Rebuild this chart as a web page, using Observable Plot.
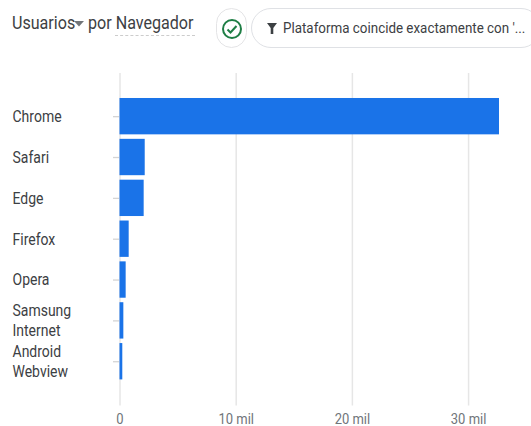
<!DOCTYPE html>
<html><head><meta charset="utf-8">
<script src="https://cdn.jsdelivr.net/npm/d3@7"></script>
<script src="https://cdn.jsdelivr.net/npm/@observablehq/plot@0.6"></script>
<style>
html,body{margin:0;padding:0;background:#fff;overflow:hidden}
#head{position:relative;width:531px;height:70px;overflow:hidden;font-family:Roboto,sans-serif;color:#3c4043}
#head span,#head div{position:absolute}
.t{font-size:16.1px;top:13px;white-space:nowrap;transform:scaleY(1.12);transform-origin:center}
#dash{left:115px;top:35px;width:80px;border-top:1px dashed #ccc}
#check{left:216px;top:8px;width:31px;height:40px;border:1px solid #e4e4e6;border-radius:16px;box-sizing:border-box}
#pill{left:251px;top:8px;width:290px;height:40px;border:1px solid #dfe1e5;border-radius:20px;box-sizing:border-box}
#pilltext{left:283px;top:20px;font-size:13.4px;white-space:nowrap;transform:scaleY(1.15);transform-origin:center}
#head svg{position:absolute}
#chart svg{display:block}
</style></head><body>
<div id="head">
<span class="t" style="left:12px">Usuarios</span>
<svg style="left:74px;top:21px" width="11" height="7"><path d="M0 0H10L5 5.5Z" fill="#70757a"/></svg>
<span class="t" style="left:88px">por Navegador</span>
<div id="dash"></div>
<div id="check"></div>
<svg style="left:220px;top:17px" width="24" height="24"><circle cx="12" cy="12" r="9" fill="none" stroke="#1e7e45" stroke-width="2"/><path d="M7.5 12.5l3 3 6-6.5" fill="none" stroke="#1e7e45" stroke-width="2"/></svg>
<div id="pill"></div>
<svg style="left:266px;top:22px" width="12" height="13"><path d="M1 1H11L7.3 6V12H4.7V6Z" fill="#3c4043"/></svg>
<span id="pilltext">Plataforma coincide exactamente con '...</span>
</div>
<div id="chart"></div>
<script>
const browsers = ["Chrome","Safari","Edge","Firefox","Opera","Samsung\nInternet","Android\nWebview"];
const users = [32660,2170,2080,790,530,330,240];
const xTicks = [0,10000,20000,30000];
const rows = browsers.map((b,i)=>({b,v:users[i]}));
const plot = Plot.plot({
  width:531, height:356, marginLeft:119, marginRight:0, marginTop:3, marginBottom:20.4,
  style:{fontFamily:"Roboto,sans-serif",background:"#fff"},
  x:{domain:[0,36000],range:[119.5,537.8],label:null},
  y:{domain:browsers,range:[23.5,313.9],padding:0.11,round:false,label:null},
  marks:[
    Plot.ruleX(xTicks,{stroke:"#e6e6e6",strokeWidth:1.5}),
    Plot.axisY({tickSize:6,tickFormat:()=>"",stroke:"#d4d4d4",strokeWidth:1.3,strokeOpacity:1,label:null}),
    Plot.barX(rows,{x:"v",y:"b",fill:"#1a73e8"}),
    Plot.axisY({tickSize:0,tickPadding:107,textAnchor:"start",fontSize:14,fill:"#3c4043",lineHeight:1.24,dy:-1,label:null}),
    Plot.axisX(xTicks,{tickSize:0,tickPadding:7.5,fontSize:13,fill:"#70757a",label:null,
      tickFormat:d=>d===0?"0":`${d/1000} mil`})
  ]
});
plot.querySelectorAll("text").forEach(t=>{
  const tr = t.getAttribute("transform") || "";
  t.setAttribute("transform", tr + " scale(1,1.15)");
});
document.getElementById("chart").append(plot);
</script>
</body></html>
